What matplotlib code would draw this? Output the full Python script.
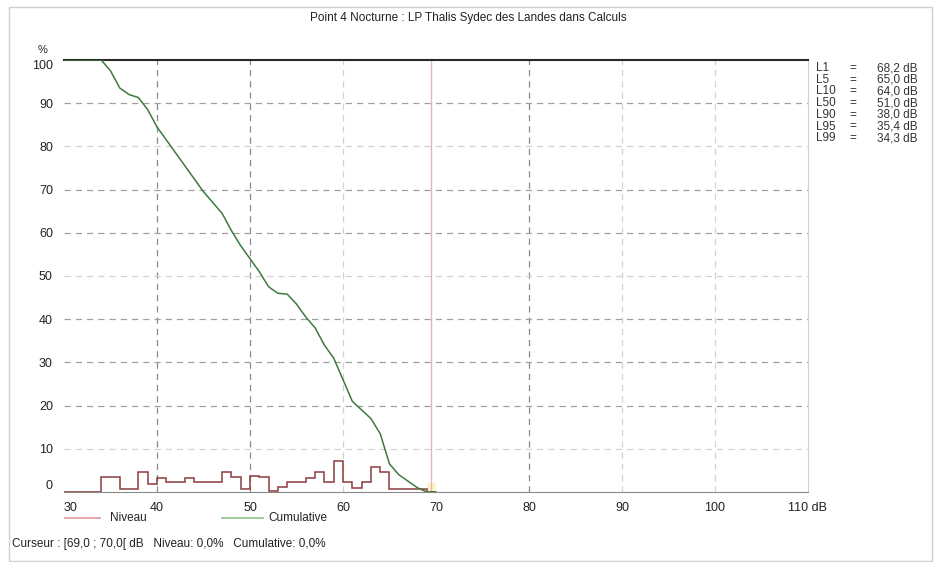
import matplotlib
matplotlib.use("Agg")
import matplotlib.pyplot as plt
import numpy as np

plt.rcParams['font.family'] = ['Liberation Sans', 'DejaVu Sans']

# 1 dB bins, lower edge in dB
bin_db = [30, 31, 32, 33, 34, 35, 36, 37, 38, 39, 40, 41, 42, 43, 44, 45, 46, 47, 48, 49,
          50, 51, 52, 53, 54, 55, 56, 57, 58, 59, 60, 61, 62, 63, 64, 65, 66, 67, 68, 69]
# Niveau: % of time in each bin
niveau = [0, 0, 0, 0, 3.5, 3.5, 0.8, 0.8, 4.6, 1.9, 3.3, 2.3, 2.3, 3.3, 2.3, 2.3, 2.3, 4.7, 3.5, 0.7,
          3.7, 3.4, 0.2, 1.1, 2.3, 2.3, 3.3, 4.6, 2.3, 7.1, 2.3, 1.0, 2.3, 5.8, 4.6, 0.8, 0.8, 0.8, 0.8, 0]
# Cumulative: % of time above level
cum_db = [30, 31, 32, 33, 34, 35, 36, 37, 38, 39, 40, 41, 42, 43, 44, 45, 46, 47, 48, 49,
          50, 51, 52, 53, 54, 55, 56, 57, 58, 59, 60, 61, 62, 63, 64, 65, 66, 67, 68, 69, 70]
cumulative = [100, 100, 100, 100, 100, 97.5, 93.5, 92, 91.3, 88.5, 84.5, 81.5, 78.5, 75.5, 72.5, 69.5,
              67, 64.5, 60.5, 57, 54, 51, 47.5, 46, 45.8, 43.5, 40.5, 38, 34, 31, 26, 21, 19, 17,
              13.5, 6.5, 4, 2.5, 1, 0, 0]

stat_names = ['L1', 'L5', 'L10', 'L50', 'L90', 'L95', 'L99']
stat_values = ['68,2', '65,0', '64,0', '51,0', '38,0', '35,4', '34,3']

x_ticks = [30, 40, 50, 60, 70, 80, 90, 100, 110]
y_ticks = [0, 10, 20, 30, 40, 50, 60, 70, 80, 90, 100]
cursor = (69, 70)

W, H = 936, 562
fig = plt.figure(figsize=(W / 100, H / 100), dpi=100)
ax = fig.add_axes([64 / W, 1 - 492 / H, (808 - 64) / W, (492 - 60) / H])

# frame around whole picture
fig.add_artist(plt.Rectangle((9 / W, 0.002), (932 - 9) / W, 1 - 7 / H - 0.002,
                             transform=fig.transFigure, fill=False, ec='#cfcfcf', lw=1))

# grid (some lines darker than others in the original)
dark = '#8a8a8a'
light = '#d2d2d2'
for x in [40, 50, 80]:
    ax.axvline(x, color=dark, lw=0.9, ls=(0, (5, 4)), zorder=1)
for x in [60, 90, 100]:
    ax.axvline(x, color=light, lw=0.9, ls=(0, (5, 4)), zorder=1)
for y in [90, 70, 60, 40, 30, 20]:
    ax.axhline(y, color='#a0a0a0', lw=0.9, ls=(0, (5, 4)), zorder=1)
for y in [80, 50, 10]:
    ax.axhline(y, color=light, lw=0.9, ls=(0, (5, 4)), zorder=1)

# cursor
ax.axvspan(cursor[0], cursor[1], ymin=0, ymax=0.02, color='#fff3c8', zorder=1, lw=0)
ax.axvline((cursor[0] + cursor[1]) / 2, color='#e8b4b4', lw=1, zorder=2)

edges = bin_db + [bin_db[-1] + 1]
ax.stairs(niveau, edges, color='#8c3c3c', lw=1.1, zorder=3)
ax.plot(cum_db, cumulative, color='#3d7a3d', lw=1.1, zorder=4)

ax.set_xlim(30, 110)
ax.set_ylim(0, 100)

for s in ['left']:
    ax.spines[s].set_visible(False)
ax.spines['top'].set_color('#2a2a2a')
ax.spines['top'].set_linewidth(1.5)
ax.spines['bottom'].set_color('#8a8a8a')
ax.spines['right'].set_color('#d0d0d0')

ax.set_xticks(x_ticks)
ax.set_xticklabels([str(v) for v in x_ticks[:-1]] + ['110 dB'])
ax.set_yticks(y_ticks)
ax.set_yticklabels([str(v) for v in y_ticks])
ax.tick_params(axis='x', length=0, pad=7, labelsize=9, colors='#222222')
ax.tick_params(axis='y', length=0, pad=8, labelsize=9, colors='#222222')
ax.get_xticklabels()[0].set_ha('left')
ax.get_yticklabels()[0].set_va('bottom')
ax.get_yticklabels()[-1].set_va('top')

fig.text(43 / W, 1 - 50 / H, '%', fontsize=8, ha='center', va='center', color='#222222')
fig.text(0.5, 1 - 18 / H, 'Point 4 Nocturne : LP Thalis Sydec des Landes dans Calculs',
         fontsize=8.5, ha='center', va='center', color='#222222')

# statistics on the right
for i, (n, v) in enumerate(zip(stat_names, stat_values)):
    y = 1 - (68 + i * 11.7) / H
    fig.text(816 / W, y, n, fontsize=8.5, va='center', color='#333333')
    fig.text(849 / W, y, '=', fontsize=8.5, va='center', color='#333333')
    fig.text(877 / W, y, v + ' dB', fontsize=8.5, va='center', color='#333333')

# legend below the plot
ly = 1 - 518 / H
fig.add_artist(plt.Line2D([65 / W, 100 / W], [ly, ly], color='#e39a9a', lw=1.2))
fig.text(110 / W, ly, 'Niveau', fontsize=8.5, va='center', color='#222222')
fig.add_artist(plt.Line2D([222 / W, 263 / W], [ly, ly], color='#8cc48c', lw=1.2))
fig.text(268 / W, ly, 'Cumulative', fontsize=8.5, va='center', color='#222222')

fig.text(12 / W, 1 - 544 / H, 'Curseur : [69,0 ; 70,0[ dB   Niveau: 0,0%   Cumulative: 0,0%',
         fontsize=8.5, va='center', color='#222222')

fig.savefig('out.png', dpi=100)
